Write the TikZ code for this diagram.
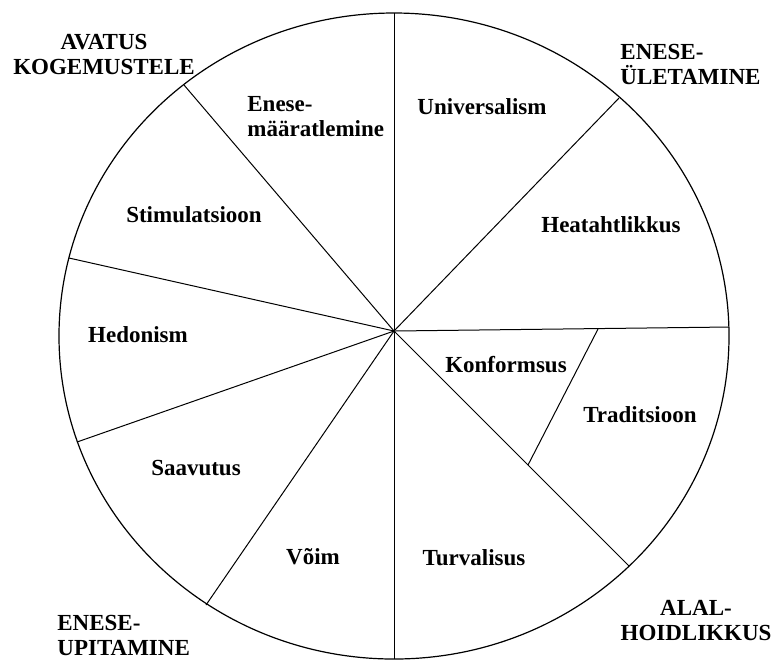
\documentclass[tikz,border=0pt]{standalone}
\usepackage{fontspec}
\setmainfont{Liberation Serif}

\begin{document}
\begin{tikzpicture}[x=0.5pt,y=-0.5pt,
	value/.style={font=\fontsize{11.5}{12.5}\selectfont\bfseries,align=center,inner sep=1pt},
	group/.style={value,anchor=west,align=left}]
	\useasboundingbox (0,0) rectangle (774,661);
	% the wheel
	\draw[line width=0.6pt] (394,336) ellipse [x radius=335, y radius=323];
	\coordinate (hub) at (394,331);
	\coordinate (n) at (394,13);
	\coordinate (ne) at (619,98);
	\coordinate (e) at (729,327);
	\coordinate (se) at (629,566);
	\coordinate (s) at (394,659);
	\coordinate (sw) at (206,605);
	\coordinate (wsw) at (77,442);
	\coordinate (wnw) at (69,258);
	\coordinate (nw) at (184,85);
	\foreach \rim in {n,ne,e,se,s,sw,wsw,wnw,nw}
		\draw[line width=0.5pt] (hub) -- (\rim);
	% Konformsus / Traditsioon split
	\coordinate (split1) at (598,329);
	\coordinate (split2) at (528,465);
	\draw[line width=0.5pt] (split1) -- (split2);

	% values
	\node[value] (univ) at (482,107) {Universalism};
	\node[value] (heat) at (611,225) {Heatahtlikkus};
	\node[value] (konf) at (506,365) {Konformsus};
	\node[value] (trad) at (640,415) {Traditsioon};
	\node[value] (turv) at (474,558) {Turvalisus};
	\node[value] (voim) at (313,557) {Võim};
	\node[value] (saav) at (196,468) {Saavutus};
	\node[value] (hedo) at (138,335) {Hedonism};
	\node[value] (stim) at (194,215) {Stimulatsioon};
	\node[value,anchor=west,align=left] (maar) at (245,117) {Enese-\\määratlemine};

	% higher order groups
	\node[value] (avatus) at (104,54) {AVATUS\\KOGEMUSTELE};
	\node[group] (uletamine) at (618,64) {ENESE-\\ÜLETAMINE};
	\node[value] (alal) at (696,620) {ALAL-\\HOIDLIKKUS};
	\node[group] (upitamine) at (55,635) {ENESE-\\UPITAMINE};
\end{tikzpicture}
\end{document}
